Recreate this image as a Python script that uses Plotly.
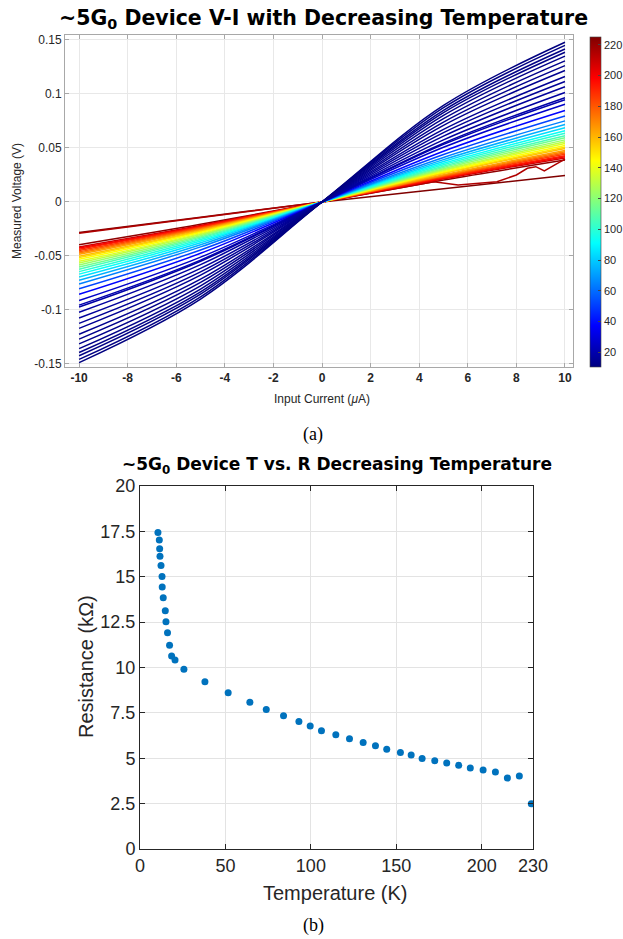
import plotly.graph_objects as go
from plotly.colors import sample_colorscale

# ---------------- data ----------------
temps_K = [10.5, 11.3, 11.5, 11.7, 12.3, 12.9, 13.0, 13.6, 14.8, 15.2,
           16.1, 17.3, 18.5, 20.5, 25.7, 38.0, 51.6, 64.3, 73.9, 84.0,
           93.0, 99.6, 106.2, 114.6, 122.6, 130.6, 137.8, 144.4, 152.4, 158.7,
           165.1, 172.5, 179.5, 186.5, 193.3, 200.8, 208.0, 215.0, 222.0, 229.0]
resistance_kohm = [17.44, 17.03, 16.54, 16.13, 15.62, 15.02, 14.43, 13.84, 13.12, 12.52,
                   11.91, 11.23, 10.63, 10.41, 9.91, 9.21, 8.61, 8.08, 7.69, 7.34,
                   7.03, 6.77, 6.51, 6.29, 6.07, 5.87, 5.69, 5.49, 5.32, 5.18,
                   4.99, 4.86, 4.74, 4.61, 4.46, 4.35, 4.24, 3.91, 4.02, 2.49]

current_uA = [-10, -5, 0, 5, 10]
v_m10 = [-0.1487, -0.1458, -0.1424, -0.1394, -0.1358, -0.1314, -0.1270, -0.1225, -0.1170, -0.1124,
         -0.1075, -0.1021, -0.0973, -0.0955, -0.0913, -0.0855, -0.0804, -0.0759, -0.0725, -0.0695,
         -0.0668, -0.0645, -0.0622, -0.0603, -0.0583, -0.0565, -0.0549, -0.0531, -0.0515, -0.0503,
         -0.0485, -0.0473, -0.0462, -0.0450, -0.0437, -0.0427, -0.0416, -0.0290, -0.0396, -0.0282]
v_m5 = [-0.0899, -0.0878, -0.0853, -0.0832, -0.0806, -0.0776, -0.0745, -0.0715, -0.0677, -0.0647,
        -0.0615, -0.0580, -0.0549, -0.0538, -0.0511, -0.0475, -0.0444, -0.0416, -0.0396, -0.0378,
        -0.0362, -0.0348, -0.0335, -0.0324, -0.0312, -0.0302, -0.0293, -0.0283, -0.0274, -0.0267,
        -0.0257, -0.0250, -0.0244, -0.0237, -0.0230, -0.0224, -0.0218, -0.0145, -0.0207, -0.0141]
v_p5 = [0.0894, 0.0873, 0.0848, 0.0827, 0.0801, 0.0771, 0.0740, 0.0710, 0.0672, 0.0642,
        0.0610, 0.0575, 0.0544, 0.0533, 0.0506, 0.0470, 0.0439, 0.0412, 0.0392, 0.0374,
        0.0358, 0.0344, 0.0331, 0.0320, 0.0308, 0.0298, 0.0289, 0.0279, 0.0270, 0.0263,
        0.0253, 0.0246, 0.0240, 0.0233, 0.0226, 0.0220, 0.0214, 0.0192, 0.0203, 0.0123]
v_p10 = [0.1479, 0.1450, 0.1416, 0.1386, 0.1350, 0.1306, 0.1262, 0.1217, 0.1162, 0.1116,
         0.1067, 0.1013, 0.0965, 0.0947, 0.0905, 0.0847, 0.0796, 0.0751, 0.0717, 0.0687,
         0.0660, 0.0637, 0.0614, 0.0595, 0.0575, 0.0557, 0.0541, 0.0523, 0.0507, 0.0495,
         0.0477, 0.0465, 0.0454, 0.0442, 0.0429, 0.0419, 0.0408, 0.0395, 0.0388, 0.0245]

# the irregular 215 K sweep
anomaly_T = 215.0
anomaly_I = [-10, -5, 0, 2.5, 4.6, 5.6, 6.4, 7.2, 8.0, 8.45, 8.8, 9.15, 9.6, 10]
anomaly_V = [-0.0290, -0.0145, 0, 0.0101, 0.0186, 0.0157, 0.0170, 0.0188, 0.0250,
             0.0312, 0.0327, 0.0287, 0.0345, 0.0396]

cbar_ticks = [20, 40, 60, 80, 100, 120, 140, 160, 180, 200, 220]
top_xticks = [-10, -8, -6, -4, -2, 0, 2, 4, 6, 8, 10]
top_yticks = [-0.15, -0.1, -0.05, 0, 0.05, 0.1, 0.15]
top_ylabels = ["-0.15", "-0.1", "-0.05", "0", "0.05", "0.1", "0.15"]
bot_xticks = [0, 50, 100, 150, 200, 230]
bot_yticks = [0, 2.5, 5, 7.5, 10, 12.5, 15, 17.5, 20]

# ---------------- styling ----------------
W, H = 623, 939
jet = [[0.0, "rgb(0,0,128)"], [0.125, "rgb(0,0,255)"], [0.375, "rgb(0,255,255)"],
       [0.625, "rgb(255,255,0)"], [0.875, "rgb(255,0,0)"], [1.0, "rgb(128,0,0)"]]
cmin, cmax = 10.5, 225.0


def px_x(p):
    return p / W


def px_y(p):
    return 1 - p / H


def tcolor(t):
    f = min(max((t - cmin) / (cmax - cmin), 0), 1)
    return sample_colorscale(jet, [f])[0]


fig = go.Figure()

# V-I curves, plotted from high to low temperature
for i in reversed(range(len(temps_K))):
    t = temps_K[i]
    if t == anomaly_T:
        xs, ys, shape = anomaly_I, anomaly_V, "linear"
    else:
        xs = current_uA
        ys = [v_m10[i], v_m5[i], 0, v_p5[i], v_p10[i]]
        shape = "spline"
    fig.add_trace(go.Scatter(x=xs, y=ys, mode="lines", xaxis="x", yaxis="y",
                             line=dict(color=tcolor(t), width=1.5, shape=shape),
                             showlegend=False, hoverinfo="skip"))

# colorbar holder
fig.add_trace(go.Scatter(x=[0], y=[0], mode="markers", xaxis="x", yaxis="y",
                         marker=dict(size=0.1, opacity=0, color=[cmin], cmin=cmin, cmax=cmax,
                                     colorscale=jet, showscale=True,
                                     colorbar=dict(x=px_x(590), xanchor="left",
                                                   y=px_y(367), yanchor="bottom",
                                                   len=(367 - 37) / H, lenmode="fraction",
                                                   thickness=11, thicknessmode="pixels",
                                                   outlinewidth=0.6, outlinecolor="#444",
                                                   tickvals=cbar_ticks, ticks="inside",
                                                   ticklen=3, tickcolor="#444",
                                                   tickfont=dict(family="Liberation Sans", size=11,
                                                                 color="#262626"),
                                                   xpad=0, ypad=0)),
                         showlegend=False, hoverinfo="skip"))

# T vs R
fig.add_trace(go.Scatter(x=temps_K, y=resistance_kohm, mode="markers", xaxis="x2", yaxis="y2",
                         marker=dict(color="#0072BD", size=7), showlegend=False))

tickfont_top = dict(family="Liberation Sans", size=12, color="#262626")
tickfont_bot = dict(family="Liberation Sans", size=18, color="#262626")

fig.update_layout(
    width=W, height=H, margin=dict(l=0, r=0, t=0, b=0, autoexpand=False),
    paper_bgcolor="white", plot_bgcolor="white",
    xaxis=dict(domain=[px_x(65), px_x(573)], anchor="y", range=[-10.58, 10.33],
               tickvals=top_xticks, ticktext=["<b>%d</b>" % v for v in top_xticks],
               tickfont=tickfont_top, showgrid=True, gridcolor="#e8e8e8", gridwidth=1,
               zeroline=False, showline=True, linecolor="#a8a8a8", linewidth=1, mirror="ticks",
               ticks="inside", ticklen=4, tickcolor="#a8a8a8", automargin=False),
    yaxis=dict(domain=[px_y(367), px_y(35)], anchor="x", range=[-0.1528, 0.1546],
               tickvals=top_yticks, ticktext=top_ylabels, tickfont=tickfont_top,
               showgrid=True, gridcolor="#e8e8e8", gridwidth=1,
               zeroline=False, showline=True, linecolor="#a8a8a8", linewidth=1, mirror="ticks",
               ticks="inside", ticklen=4, tickcolor="#a8a8a8", automargin=False),
    xaxis2=dict(domain=[px_x(140), px_x(533)], anchor="y2", range=[0, 230],
                tickvals=bot_xticks, tickfont=tickfont_bot,
                showgrid=True, gridcolor="#e3e3e3", gridwidth=1,
                zeroline=False, showline=True, linecolor="#262626", linewidth=1, mirror="ticks",
                ticks="inside", ticklen=5, tickcolor="#262626", automargin=False),
    yaxis2=dict(domain=[px_y(849), px_y(486)], anchor="x2", range=[0, 20],
                tickvals=bot_yticks, ticktext=["0", "2.5", "5", "7.5", "10", "12.5", "15", "17.5", "20"],
                tickfont=tickfont_bot, showgrid=True, gridcolor="#e3e3e3", gridwidth=1,
                zeroline=False, showline=True, linecolor="#262626", linewidth=1, mirror="ticks",
                ticks="inside", ticklen=5, tickcolor="#262626", automargin=False),
)

ann = [
    dict(text="<b>~5G<sub>0</sub> Device V-I with Decreasing Temperature</b>", x=px_x(323), y=px_y(19),
         font=dict(family="DejaVu Sans", size=20.5, color="black")),
    dict(text="Measured Voltage (V)", x=px_x(17), y=px_y(201), textangle=-90,
         font=dict(family="Liberation Sans", size=12, color="#262626")),
    dict(text="Input Current (<i>μ</i>A)", x=px_x(322), y=px_y(399),
         font=dict(family="Liberation Sans", size=12, color="#262626")),
    dict(text="(a)", x=px_x(313), y=px_y(434),
         font=dict(family="Liberation Serif", size=18, color="black")),
    dict(text="<b>~5G<sub>0</sub> Device T vs. R Decreasing Temperature</b>", x=px_x(337), y=px_y(465),
         font=dict(family="DejaVu Sans", size=17, color="black")),
    dict(text="Resistance (kΩ)", x=px_x(86), y=px_y(667), textangle=-90,
         font=dict(family="Liberation Sans", size=20, color="#262626")),
    dict(text="Temperature (K)", x=px_x(335), y=px_y(893),
         font=dict(family="Liberation Sans", size=20, color="#262626")),
    dict(text="(b)", x=px_x(313), y=px_y(925),
         font=dict(family="Liberation Serif", size=18, color="black")),
]
for a in ann:
    a.update(xref="paper", yref="paper", showarrow=False, xanchor="center", yanchor="middle")
fig.update_layout(annotations=ann)

fig.write_html("out.html", config={"displayModeBar": False},
               post_script="document.body.style.margin='0';document.body.style.padding='0';"
                           "document.documentElement.style.overflow='hidden';")
